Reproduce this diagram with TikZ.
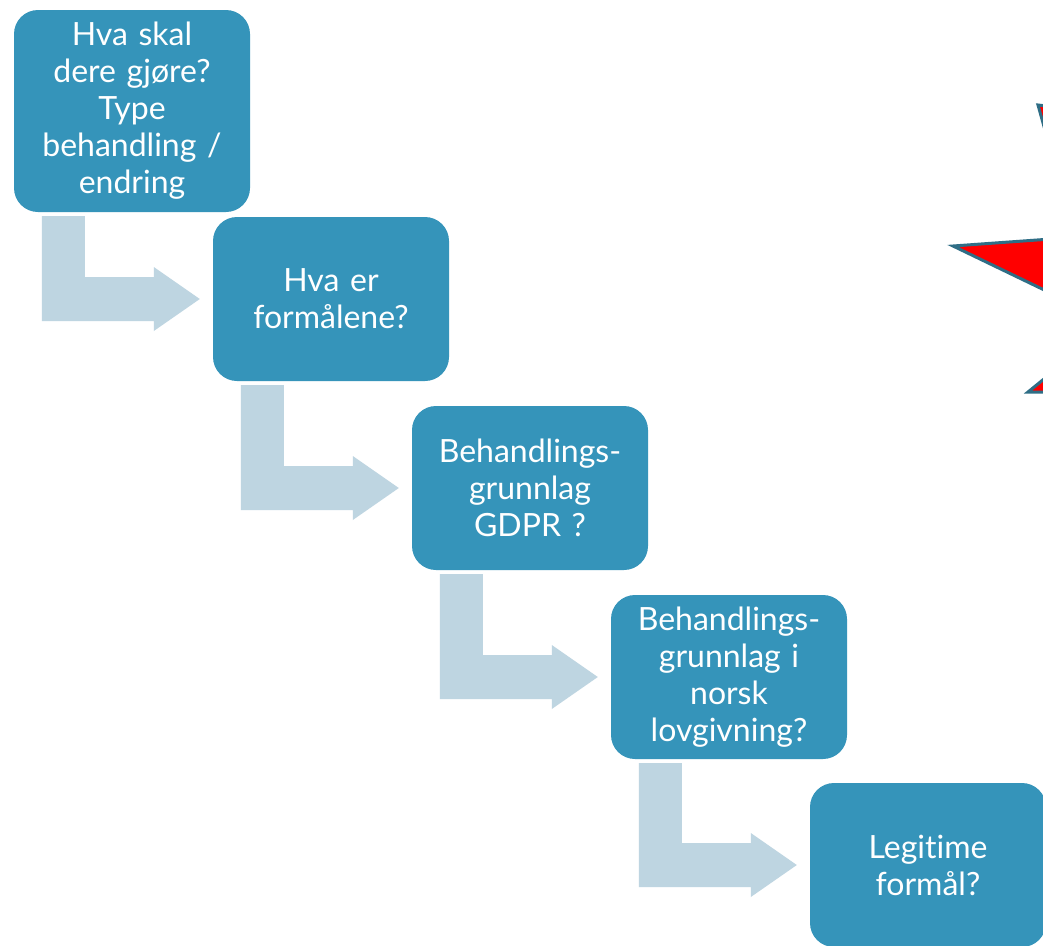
\documentclass[tikz,border=0pt]{standalone}
\usepackage{fontspec}
\setmainfont{Lato}[RawFeature={-liga}]
\usetikzlibrary{calc}
\definecolor{boxblue}{HTML}{3594BA}
\definecolor{arrowgrey}{HTML}{BED5E1}
\definecolor{staredge}{HTML}{2F6E86}
\tikzset{
  stepbox/.style={rectangle, rounded corners=24pt, fill=boxblue, text=white,
    minimum width=236pt, text width=226pt, align=center, inner sep=0pt,
    font=\fontsize{32pt}{37pt}\selectfont},
  bentarrow/.style={fill=arrowgrey, draw=none},
}
\newcommand{\bendarrow}[2]{%
  \path[bentarrow] let \p1=(#1.south west), \p2=(#2.west) in
    ({\x1+28pt},{\y1-4pt}) -- ({\x1+71pt},{\y1-4pt}) -- ({\x1+71pt},{\y2+22pt})
    -- ({\x2-59pt},{\y2+22pt}) -- ({\x2-59pt},{\y2+32pt}) -- ({\x2-13pt},{\y2})
    -- ({\x2-59pt},{\y2-32pt}) -- ({\x2-59pt},{\y2-22pt}) -- ({\x1+28pt},{\y2-22pt}) -- cycle;}
\begin{document}
\begin{tikzpicture}[x=1pt,y=-1pt]
\clip (0,0) rectangle (1043,945);
\fill[white] (0,0) rectangle (1043,945);
% star (partly outside the picture)
\draw[fill=red, draw=staredge, line width=3pt, line join=miter, miter limit=4]
  (1038,105) -- (1050,148) -- (1065,238) -- (953,246) -- (1065,300) -- (1055,370)
  -- (1028,392) -- (1080,392) -- (1100,250) -- (1080,110) -- cycle;
% boxes
\node[stepbox, minimum height=202pt] (b1) at (132,111) {Hva skal\\dere gjøre?\\Type\\behandling /\\endring};
\node[stepbox, minimum height=164pt] (b2) at (331,299) {Hva er\\formålene?};
\node[stepbox, minimum height=164pt] (b3) at (530,488) {Behandlings-\\grunnlag\\GDPR ?};
\node[stepbox, minimum height=164pt] (b4) at (729,677) {Behandlings-\\grunnlag i\\norsk\\lovgivning?};
\node[stepbox, minimum height=164pt] (b5) at (928,865) {Legitime\\formål?};
% connectors
\bendarrow{b1}{b2}
\bendarrow{b2}{b3}
\bendarrow{b3}{b4}
\bendarrow{b4}{b5}
\end{tikzpicture}
\end{document}
